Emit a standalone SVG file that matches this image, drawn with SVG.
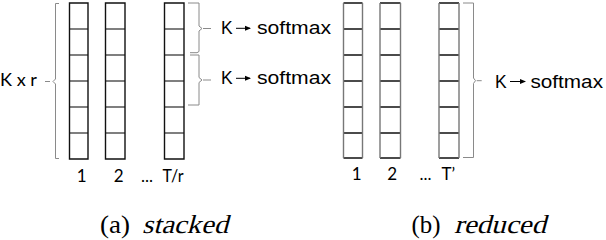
<svg xmlns="http://www.w3.org/2000/svg" width="606" height="240" viewBox="0 0 606 240">
<defs>
<style>
.col{fill:#fff;stroke:none}
.v1{stroke:#111;stroke-width:1.4;fill:none}
.h1{stroke:#555;stroke-width:1.3;fill:none}
.v2{stroke:#777;stroke-width:1.4;fill:none}
.h2{stroke:#111;stroke-width:1.3;fill:none}
.brace{stroke:#8a8a8a;stroke-width:1;fill:none}
.lbl{font-family:Lato,"Liberation Sans",sans-serif;fill:#000}
.num{font-family:Lato,"Liberation Sans",sans-serif;font-size:17px;fill:#000}
.sm{font-family:"Liberation Sans",Arial,sans-serif;font-size:17.5px;fill:#000}
.cap{font-family:"Liberation Serif","Times New Roman",serif;font-size:26px;fill:#000}
.arr{stroke:#000;stroke-width:1;fill:none}
</style>
<marker id="ah" viewBox="0 0 6 6" refX="5" refY="3" markerWidth="6" markerHeight="6" markerUnits="userSpaceOnUse" orient="auto">
<path d="M0,0.5 L6,3 L0,5.5 Z" fill="#000"/>
</marker>
</defs>

<g id="stacked">
<g id="s-col1">
<rect class="col" x="69.5" y="3" width="18.5" height="156"/>
<path class="h1" d="M69.5,29H88M69.5,55H88M69.5,81H88M69.5,107H88M69.5,133H88"/>
<path class="v1" d="M69.5,3H88V159H69.5Z"/>
</g>
<g id="s-col2">
<rect class="col" x="105.5" y="3" width="19.5" height="156"/>
<path class="h1" d="M105.5,29H125M105.5,55H125M105.5,81H125M105.5,107H125M105.5,133H125"/>
<path class="v1" d="M105.5,3H125V159H105.5Z"/>
</g>
<g id="s-col3">
<rect class="col" x="164.5" y="3" width="19.5" height="156"/>
<path class="h1" d="M164.5,29H184M164.5,55H184M164.5,81H184M164.5,107H184M164.5,133H184"/>
<path class="v1" d="M164.5,3H184V159H164.5Z"/>
</g>
<g id="s-brace-left">
<path class="brace" d="M59,3.5H55.5V79L53,81.5L55.5,84V158.5H59M45,81.5H50"/>
<text class="lbl" x="0" y="85.7" font-size="18" textLength="37" lengthAdjust="spacingAndGlyphs">K x r</text>
</g>
<g id="s-brace-1">
<path class="brace" d="M188,3H199V26L202,28.5L199,31V51.5L197,52.7H190M203,28.5H211"/>
</g>
<g id="s-brace-2">
<path class="brace" d="M190,55H199V77.5L202,80L199,82.5V105H188M203,80H211"/>
</g>
<g id="s-out1">
<text class="sm" x="221" y="34.3">K</text>
<text class="sm" x="257" y="34.3" textLength="74" lengthAdjust="spacingAndGlyphs">softmax</text>
</g>
<g id="s-out2">
<text class="sm" x="221" y="84.3">K</text>
<text class="sm" x="257" y="84.3" textLength="74" lengthAdjust="spacingAndGlyphs">softmax</text>
</g>
<text class="num" x="81.8" y="181.5" text-anchor="middle">1</text>
<text class="num" x="118.8" y="181.5" text-anchor="middle">2</text>
<text class="num" x="141" y="181.5">...</text>
<text class="num" x="162.5" y="181.5" textLength="21" lengthAdjust="spacingAndGlyphs">T/r</text>
<text class="cap" x="100" y="233" textLength="30" lengthAdjust="spacingAndGlyphs">(a)</text>
<text class="cap" transform="translate(142,233) skewX(-15)" x="0" y="0" textLength="86" lengthAdjust="spacingAndGlyphs">stacked</text>
</g>

<g id="reduced">
<g id="r-col1">
<rect class="col" x="343.5" y="3" width="19" height="155"/>
<path class="h2" d="M343.5,29H362.5M343.5,55H362.5M343.5,81H362.5M343.5,107H362.5M343.5,133H362.5M343.5,3H362.5M343.5,158H362.5"/>
<path class="v2" d="M343.5,3V158M362.5,3V158"/>
</g>
<g id="r-col2">
<rect class="col" x="380" y="3" width="20.5" height="155"/>
<path class="h2" d="M380,29H400.5M380,55H400.5M380,81H400.5M380,107H400.5M380,133H400.5M380,3H400.5M380,158H400.5"/>
<path class="v2" d="M380,3V158M400.5,3V158"/>
</g>
<g id="r-col3">
<rect class="col" x="439" y="3" width="20" height="155"/>
<path class="h2" d="M439,29H459M439,55H459M439,81H459M439,107H459M439,133H459M439,3H459M439,158H459"/>
<path class="v2" d="M439,3V158M459,3V158"/>
</g>
<g id="r-brace">
<path class="brace" d="M463,3H473.5V78L475.5,80.7L473.5,83.4V157.5H463M476.7,80.7H481.7"/>
</g>
<g id="r-out">
<text class="sm" x="495" y="87.7">K</text>
<text class="sm" x="530.5" y="87.7" textLength="72.5" lengthAdjust="spacingAndGlyphs">softmax</text>
</g>
<text class="num" x="356.7" y="179.5" text-anchor="middle">1</text>
<text class="num" x="392.3" y="179.5" text-anchor="middle">2</text>
<text class="num" x="419.5" y="179.5">...</text>
<text class="num" x="441.5" y="179.5">T’</text>
<text class="cap" x="411.5" y="233" textLength="29" lengthAdjust="spacingAndGlyphs">(b)</text>
<text class="cap" transform="translate(454,233) skewX(-15)" x="0" y="0" textLength="92" lengthAdjust="spacingAndGlyphs">reduced</text>
</g>

<g id="connectors">
<line class="arr" x1="236" y1="28.3" x2="250" y2="28.3" marker-end="url(#ah)"/>
<line class="arr" x1="236" y1="78.3" x2="250" y2="78.3" marker-end="url(#ah)"/>
<line class="arr" x1="510" y1="81.5" x2="525" y2="81.5" marker-end="url(#ah)"/>
</g>
</svg>
